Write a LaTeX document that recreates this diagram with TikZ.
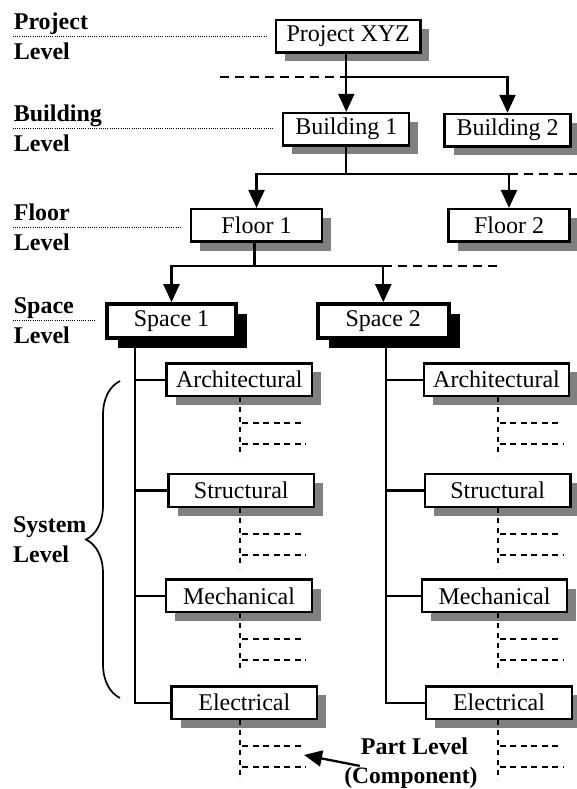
\documentclass[tikz,border=0pt]{standalone}
\usepackage{fontspec}
\setmainfont{Liberation Serif}
\usepackage{tikz}
\usetikzlibrary{arrows.meta}
\usetikzlibrary{shadows}
\usetikzlibrary{decorations.pathreplacing}
\newcommand{\diagfont}{\fontsize{24}{30}\selectfont}
\tikzset{
  box/.style={draw, line width=2.3pt, fill=white, inner sep=0pt, minimum height=32.5pt},
  unit/.style={box, drop shadow={shadow xshift=9pt, shadow yshift=-9pt, fill=black!50, opacity=1}},
  spacebox/.style={box, line width=4.2pt, minimum height=34pt,
    drop shadow={shadow xshift=11pt, shadow yshift=-10pt, fill=black, opacity=1}},
  sysbox/.style={unit, minimum width=145.5pt},
  lvl/.style={font=\diagfont\bfseries, align=left, anchor=west, inner sep=0pt},
  sep/.style={line width=1.2pt, dash pattern=on 1.1pt off 1.1pt, shorten >=9pt},
  more/.style={line width=2pt, dash pattern=on 9pt off 6pt},
  part/.style={line width=1.9pt, dash pattern=on 6pt off 4.5pt},
  partdrop/.style={line width=2pt, dash pattern=on 5pt off 5pt},
}
\begin{document}
\begin{tikzpicture}[x=1pt, y=-1pt, font=\diagfont, line width=2.3pt,
    >={Triangle[length=18pt, width=16pt]}]
  \useasboundingbox (0, 0) rectangle (577, 789);

  \node[unit, minimum width=144.5pt] at (348.2, 36.2) (proj) {Project XYZ};
  \node[unit, minimum width=126pt] at (346.3, 129.2) (bld1) {Building 1};
  \node[unit, minimum width=126pt] at (507.5, 130.2) (bld2) {Building 2};
  \node[unit, minimum width=130.5pt] at (256.5, 225.3) (flr1) {Floor 1};
  \node[unit, minimum width=121pt] at (509, 225.3) (flr2) {Floor 2};
  \node[spacebox, minimum width=129pt] at (171.5, 321.3) (spc1) {Space 1};
  \node[spacebox, minimum width=131pt] at (383.3, 321.3) (spc2) {Space 2};

  \node[sysbox] at (239.3, 379.7) (archL) {Architectural};
  \node[sysbox] at (241.3, 490.5) (strL) {Structural};
  \node[sysbox] at (239, 595.8) (mechL) {Mechanical};
  \node[sysbox] at (244.3, 702.7) (elecL) {Electrical};
  \node[sysbox] at (496.5, 379.7) (archR) {Architectural};
  \node[sysbox] at (497.7, 490.5) (strR) {Structural};
  \node[sysbox] at (494.5, 595.8) (mechR) {Mechanical};
  \node[sysbox] at (499, 702.7) (elecR) {Electrical};

  % level names
  \node[lvl] at (12.7, 36.5) (projlvl) {Project\\Level};
  \node[lvl] at (12.7, 128.5) (bldlvl) {Building\\Level};
  \node[lvl] at (12.7, 227.7) (flrlvl) {Floor\\Level};
  \node[lvl] at (12.7, 320.3) (spclvl) {Space\\Level};
  \node[lvl] at (12, 540) (syslvl) {System\\Level};
  \draw[sep] (projlvl.west) -- (projlvl.west -| proj.west);
  \draw[sep] (bldlvl.west) -- (bldlvl.west -| bld1.west);
  \draw[sep] (flrlvl.west) -- (flrlvl.west -| flr1.west);
  \draw[sep] (spclvl.west) -- (spclvl.west -| spc1.west);
  \draw[line width=1.7pt, decorate, decoration={brace, amplitude=34pt}]
    (120, 698) -- (120, 381);

  % project -> buildings
  \coordinate (bmore) at (220, 77.3);
  \draw[->] (proj.south -| bld1.north) -- (bld1.north);
  \draw[->] (bld1.north |- bmore) -| (bld2.north);
  \draw[more] (bmore) -- (bld1.north |- bmore);

  % building -> floors
  \coordinate (fmore) at (577, 174);
  \draw (bld1.south) -- (bld1.south |- fmore);
  \draw[->] (flr2.north |- fmore) -| (flr1.north);
  \draw[->] (flr2.north |- fmore) -- (flr2.north);
  \draw[more] (flr2.north |- fmore) -- (fmore);

  % floor -> spaces
  \coordinate (smore) at (497.3, 266.3);
  \draw ([xshift=-2pt]flr1.south) -- ([xshift=-2pt]flr1.south |- smore);
  \draw[->] (spc2.north |- smore) -| (spc1.north);
  \draw[->] (spc2.north |- smore) -- (spc2.north);
  \draw[more] (spc2.north |- smore) -- (smore);

  % spaces -> systems
  \coordinate (trunkL) at (135, 0);
  \coordinate (trunkR) at (385.7, 0);
  \draw (trunkL |- spc1.south) -- (trunkL |- elecL.west) -- (elecL.west);
  \draw (trunkR |- spc2.south) -- (trunkR |- elecR.west) -- (elecR.west);
  \foreach \s in {archL, strL, mechL}
    \draw (trunkL |- \s.west) -- (\s.west);
  \foreach \s in {archR, strR, mechR}
    \draw (trunkR |- \s.west) -- (\s.west);

  % parts
  \coordinate (partL) at (240.3, 0);
  \coordinate (partR) at (497.5, 0);
  \foreach \s in {archL, strL, mechL, elecL} {
    \draw[partdrop] (partL |- \s.south) -- +(0, 60);
    \draw[part] (partL |- \s.south) +(2, 26) -- +(64, 26);
    \draw[part] (partL |- \s.south) +(2, 47) -- +(66, 47);
  }
  \foreach \s in {archR, strR, mechR, elecR} {
    \draw[partdrop] (partR |- \s.south) -- +(0, 60);
    \draw[part] (partR |- \s.south) +(2, 26) -- +(64, 26);
    \draw[part] (partR |- \s.south) +(2, 47) -- +(66, 47);
  }

  \node[font=\diagfont\bfseries, anchor=base, inner sep=0pt] at (414.5, 754.5) (partlbl) {Part Level};
  \node[font=\fontsize{23.5}{28}\selectfont\bfseries, anchor=base, inner sep=0pt] at (411, 783) (complbl) {(Component)};
  \coordinate (parttip) at (304, 755);
  \draw[->] ([yshift=-10pt]partlbl.south west) -- (parttip);
\end{tikzpicture}
\end{document}
